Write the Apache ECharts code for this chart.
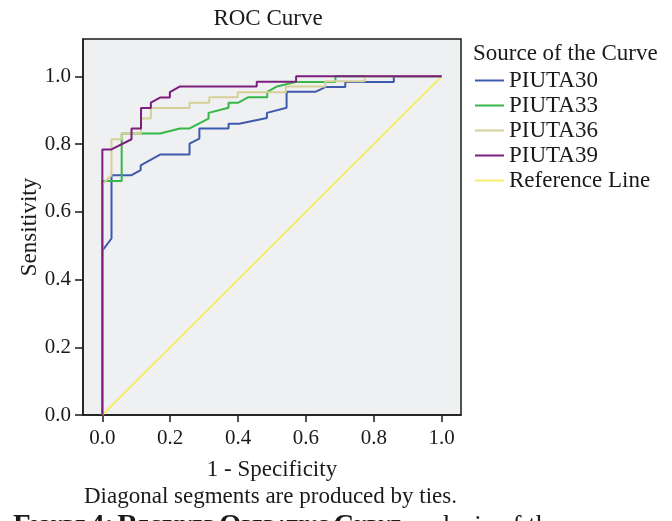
<!DOCTYPE html>
<html style="height: 100%">
<head>
    <meta charset="utf-8">
</head>
<body style="height: 100%; margin: 0; background: #fff">
<div id="container" style="width: 672px; height: 521px"></div>

<script type="text/javascript" src="https://cdn.jsdelivr.net/npm/echarts@6/dist/echarts.min.js"></script>
<script type="text/javascript">

    // ROC points [1 - specificity, sensitivity]
    var piuta30 = [[0, 0], [0, 0.485], [0.027, 0.521], [0.027, 0.708], [0.086, 0.708], [0.113, 0.723],
        [0.113, 0.737], [0.170, 0.769], [0.257, 0.769], [0.257, 0.801], [0.286, 0.816], [0.286, 0.846],
        [0.372, 0.846], [0.372, 0.860], [0.403, 0.860], [0.485, 0.877], [0.485, 0.892], [0.543, 0.907],
        [0.543, 0.954], [0.628, 0.954], [0.657, 0.968], [0.716, 0.968], [0.716, 0.983], [0.859, 0.983],
        [0.859, 1], [1, 1]];
    var piuta33 = [[0, 0], [0, 0.691], [0.057, 0.691], [0.057, 0.831], [0.170, 0.831], [0.229, 0.846],
        [0.257, 0.846], [0.313, 0.875], [0.313, 0.892], [0.372, 0.907], [0.372, 0.922], [0.401, 0.922],
        [0.429, 0.938], [0.486, 0.938], [0.486, 0.954], [0.515, 0.970], [0.569, 0.983], [0.687, 0.983],
        [0.687, 1], [1, 1]];
    var piuta36 = [[0, 0], [0, 0.681], [0.027, 0.708], [0.027, 0.814], [0.057, 0.814], [0.057, 0.831],
        [0.114, 0.831], [0.114, 0.875], [0.143, 0.875], [0.143, 0.906], [0.257, 0.906], [0.257, 0.922],
        [0.315, 0.922], [0.315, 0.938], [0.399, 0.938], [0.399, 0.953], [0.541, 0.953], [0.541, 0.970],
        [0.657, 0.970], [0.657, 0.985], [0.773, 0.985], [0.773, 1], [1, 1]];
    var piuta39 = [[0, 0], [0, 0.784], [0.027, 0.784], [0.086, 0.814], [0.086, 0.846], [0.114, 0.846],
        [0.114, 0.906], [0.143, 0.906], [0.143, 0.922], [0.170, 0.937], [0.199, 0.937], [0.199, 0.953],
        [0.229, 0.970], [0.455, 0.970], [0.455, 0.984], [0.571, 0.984], [0.571, 1], [1, 1]];
    var refLine = [[0, 0], [1, 1]];

    var seriesNames = ['PIUTA30', 'PIUTA33', 'PIUTA36', 'PIUTA39', 'Reference Line'];
    var seriesColors = ['#3e5aae', '#36b848', '#d6cf98', '#7b1e7c', '#f6ee6e'];
    var tickValues = [0, 0.2, 0.4, 0.6, 0.8, 1.0];

    var serif = '"Liberation Serif", "DejaVu Serif", serif';
    var ink = '#1a1a1a';

    var myChart = echarts.init(document.getElementById('container'));

    var seriesData = [piuta30, piuta33, piuta36, piuta39, refLine];
    var series = seriesData.map(function (d, i) {
        return {
            name: seriesNames[i],
            type: 'line',
            symbol: 'none',
            data: d,
            z: i === 4 ? 1 : 2 + i,
            lineStyle: {color: seriesColors[i], width: 2},
            itemStyle: {color: seriesColors[i]}
        };
    });

    var option = {
        animation: false,
        backgroundColor: '#fff',
        title: [{
            text: 'ROC Curve',
            left: 263,
            top: 2,
            textAlign: 'center',
            textStyle: {fontFamily: serif, fontSize: 23, fontWeight: 'normal', color: ink}
        }, {
            text: 'Source of the Curve',
            left: 468,
            top: 37,
            textStyle: {fontFamily: serif, fontSize: 23, fontWeight: 'normal', color: ink}
        }],
        legend: {
            orient: 'vertical',
            left: 475,
            top: 69,
            padding: 0,
            icon: 'rect',
            itemWidth: 29,
            itemHeight: 2,
            itemGap: 2,
            data: seriesNames,
            textStyle: {fontFamily: serif, fontSize: 23, color: ink}
        },
        grid: {
            left: 83,
            right: 211,
            top: 39,
            bottom: 106,
            show: true,
            backgroundColor: '#eff0f2',
            borderColor: '#1a1a1a',
            borderWidth: 1.5,
            outerBoundsMode: 'none'
        },
        xAxis: {
            type: 'value',
            min: -0.057,
            max: 1.057,
            name: '1 - Specificity',
            nameLocation: 'middle',
            nameGap: 43,
            nameMoveOverlap: false,
            nameTextStyle: {fontFamily: serif, fontSize: 23, color: ink},
            splitLine: {show: false},
            axisLine: {show: true, onZero: false, lineStyle: {color: ink, width: 1.5}},
            axisTick: {show: true, length: 7, customValues: tickValues, lineStyle: {color: ink, width: 1.5}},
            axisLabel: {
                customValues: tickValues, margin: 13,
                fontFamily: serif, fontSize: 21, color: ink,
                formatter: function (v) { return v.toFixed(1); }
            }
        },
        yAxis: {
            type: 'value',
            min: 0,
            max: 1.11,
            name: 'Sensitivity',
            nameLocation: 'middle',
            nameGap: 42,
            nameMoveOverlap: false,
            nameTextStyle: {fontFamily: serif, fontSize: 23, color: ink},
            splitLine: {show: false},
            axisLine: {show: true, onZero: false, lineStyle: {color: ink, width: 1.5}},
            axisTick: {show: true, length: 8, customValues: tickValues, lineStyle: {color: ink, width: 1.5}},
            axisLabel: {
                customValues: tickValues, margin: 12,
                fontFamily: serif, fontSize: 21, color: ink,
                formatter: function (v) { return v.toFixed(1); }
            }
        },
        graphic: [{
            type: 'text',
            left: 84,
            top: 485,
            style: {
                text: 'Diagonal segments are produced by ties.',
                font: '23px ' + serif,
                fill: ink
            }
        }, {
            // cropped figure caption at the very bottom
            type: 'text',
            left: 13,
            top: 512,
            style: {
                text: '{a|F}{b|IGURE} {a|4:} {a|R}{b|ECEIVER} {a|O}{b|PERATING} {a|C}{b|URVE} {c|analysis of the}',
                rich: {
                    a: {font: 'bold 29px ' + serif, fill: ink},
                    b: {font: 'bold 17px ' + serif, fill: ink},
                    c: {font: '27px ' + serif, fill: ink}
                }
            }
        }],
        series: series
    };

    myChart.setOption(option);

</script>
</body>
</html>
